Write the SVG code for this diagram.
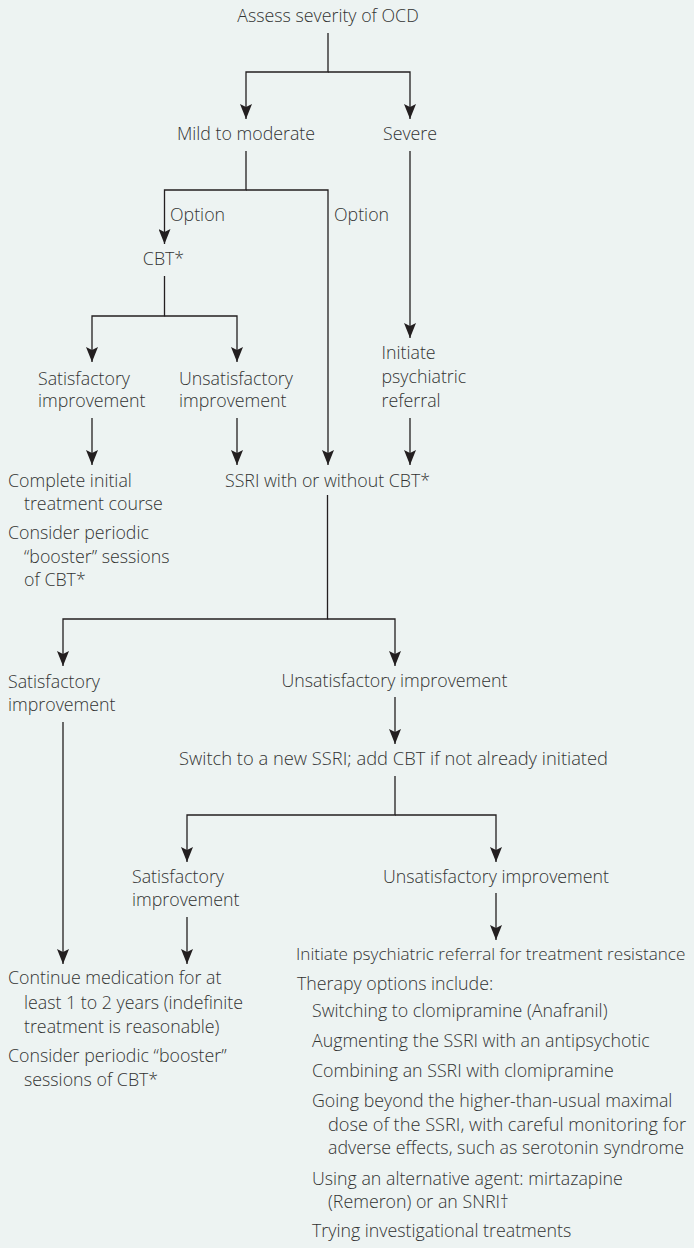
<svg xmlns="http://www.w3.org/2000/svg" width="694" height="1248" viewBox="0 0 694 1248">
<style>
text{font-family:"Open Sans","Noto Sans","Liberation Sans",sans-serif;font-size:17.8px;font-weight:350;fill:#333333}
.m{text-anchor:middle}
.c{fill:none;stroke:#231f20;stroke-width:1.3}
</style>
<defs>
<marker id="ah" markerUnits="userSpaceOnUse" markerWidth="16" markerHeight="12" viewBox="0 0 16 12" refX="15" refY="6" orient="auto">
<path d="M0,0 L15,6 L0,12 L3,6 Z" fill="#231f20"/>
</marker>
</defs>
<rect width="694" height="1248" fill="#edf3f2"/>
<g id="connectors">
<path class="c" d="M328,33 V72 H246 V119" marker-end="url(#ah)"/>
<path class="c" d="M328,72 H410 V119" marker-end="url(#ah)"/>
<path class="c" d="M246,151 V190 H164.5 V244" marker-end="url(#ah)"/>
<path class="c" d="M246,190 H328 V465" marker-end="url(#ah)"/>
<path class="c" d="M410,151 V338" marker-end="url(#ah)"/>
<path class="c" d="M164.5,276 V316 H92 V362" marker-end="url(#ah)"/>
<path class="c" d="M164.5,316 H237 V362" marker-end="url(#ah)"/>
<path class="c" d="M92,418 V465" marker-end="url(#ah)"/>
<path class="c" d="M237,418 V465" marker-end="url(#ah)"/>
<path class="c" d="M410,418 V465" marker-end="url(#ah)"/>
<path class="c" d="M327.5,495 V619 H63 V666" marker-end="url(#ah)"/>
<path class="c" d="M327.5,619 H395 V666" marker-end="url(#ah)"/>
<path class="c" d="M395,697 V744" marker-end="url(#ah)"/>
<path class="c" d="M395,776 V815 H187 V862" marker-end="url(#ah)"/>
<path class="c" d="M395,815 H496 V862" marker-end="url(#ah)"/>
<path class="c" d="M63,722 V964" marker-end="url(#ah)"/>
<path class="c" d="M187,917 V964" marker-end="url(#ah)"/>
<path class="c" d="M496,893 V940" marker-end="url(#ah)"/>
<text x="170" y="221">Option</text>
<text x="334" y="221">Option</text>
</g>
<g id="assess"><text class="m" x="328" y="22">Assess severity of OCD</text></g>
<g id="mild"><text class="m" x="246" y="140">Mild to moderate</text></g>
<g id="severe"><text class="m" x="410" y="140">Severe</text></g>
<g id="cbt"><text class="m" x="163.5" y="265">CBT*</text></g>
<g id="sat1"><text x="38" y="385">Satisfactory</text><text x="38" y="407">improvement</text></g>
<g id="unsat1"><text x="179" y="385">Unsatisfactory</text><text x="179" y="407">improvement</text></g>
<g id="referral1"><text x="381.5" y="359">Initiate</text><text x="381.5" y="383">psychiatric</text><text x="381.5" y="407">referral</text></g>
<g id="complete"><text x="8" y="487">Complete initial</text><text x="24" y="510">treatment course</text><text x="8" y="539">Consider periodic</text><text x="24" y="563">“booster” sessions</text><text x="24" y="586">of CBT*</text></g>
<g id="ssri"><text class="m" x="327.5" y="487">SSRI with or without CBT*</text></g>
<g id="sat2"><text x="8" y="688">Satisfactory</text><text x="8" y="711">improvement</text></g>
<g id="unsat2"><text class="m" x="394.5" y="687">Unsatisfactory improvement</text></g>
<g id="switch"><text x="179" y="765" textLength="429" lengthAdjust="spacingAndGlyphs">Switch to a new SSRI; add CBT if not already initiated</text></g>
<g id="sat3"><text x="132" y="883">Satisfactory</text><text x="132" y="906">improvement</text></g>
<g id="unsat3"><text class="m" x="496" y="883">Unsatisfactory improvement</text></g>
<g id="continue"><text x="8" y="984">Continue medication for at</text><text x="24" y="1009">least 1 to 2 years (indefinite</text><text x="24" y="1033">treatment is reasonable)</text><text x="8" y="1062">Consider periodic “booster”</text><text x="24" y="1086">sessions of CBT*</text></g>
<g id="resistance"><text x="296" y="960" style="font-size:17.1px">Initiate psychiatric referral for treatment resistance</text><text x="297" y="990">Therapy options include:</text><text x="312" y="1017">Switching to clomipramine (Anafranil)</text><text x="312" y="1047">Augmenting the SSRI with an antipsychotic</text><text x="312" y="1077">Combining an SSRI with clomipramine</text><text x="312" y="1107">Going beyond the higher-than-usual maximal</text><text x="328" y="1131" textLength="358" lengthAdjust="spacingAndGlyphs">dose of the SSRI, with careful monitoring for</text><text x="328" y="1154" textLength="356" lengthAdjust="spacingAndGlyphs">adverse effects, such as serotonin syndrome</text><text x="312" y="1185">Using an alternative agent: mirtazapine</text><text x="328" y="1208">(Remeron) or an SNRI†</text><text x="312" y="1237">Trying investigational treatments</text></g>
</svg>
